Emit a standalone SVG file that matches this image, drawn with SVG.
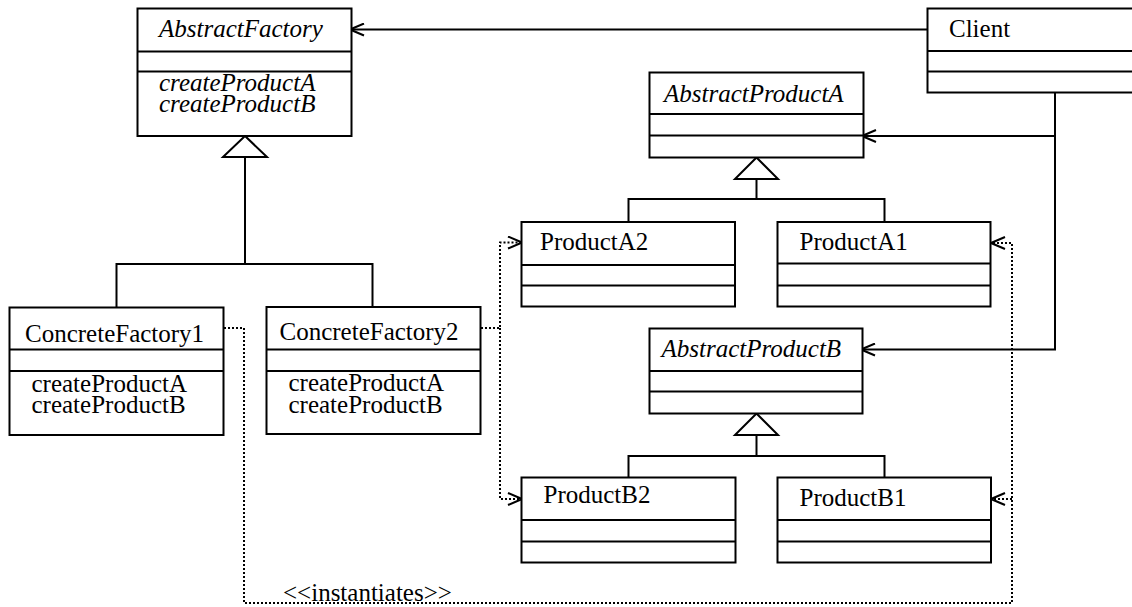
<svg xmlns="http://www.w3.org/2000/svg" width="1132" height="607" viewBox="0 0 1132 607">
  <style>
    .box { fill: #fff; stroke: #000; stroke-width: 2; }
    .sep { stroke: #000; stroke-width: 2; }
    .t { font-family: "Liberation Serif", "Times New Roman", serif; font-size: 25px; fill: #000; }
    .it { font-style: italic; }
    .solid { fill: none; stroke: #000; stroke-width: 2; }
    .dot { fill: none; stroke: #000; stroke-width: 2; stroke-dasharray: 2 2; }
    .tri { fill: #fff; stroke: #000; stroke-width: 2; stroke-linejoin: miter; }
  </style>
  <defs>
    <marker id="open" viewBox="0 0 16 14" refX="15" refY="7" markerWidth="16" markerHeight="14" markerUnits="userSpaceOnUse" orient="auto">
      <path d="M1,1 L15,7 L1,13" fill="none" stroke="#000" stroke-width="2"/>
    </marker>
  </defs>
  <rect width="1132" height="607" fill="#fff"/>

  <!-- connectors -->
  <g id="connectors">
    <!-- Client associations -->
    <line class="solid" x1="927" y1="29.5" x2="350" y2="29.5" marker-end="url(#open)"/>
    <polyline class="solid" points="1055,92.5 1055,136 862,136" marker-end="url(#open)"/>
    <polyline class="solid" points="1055,136 1055,349.5 861,349.5" marker-end="url(#open)"/>

    <!-- factory inheritance -->
    <polygon class="tri" points="245,136 223,157 267,157"/>
    <polyline class="solid" points="245,157 245,264"/>
    <polyline class="solid" points="116.5,307 116.5,264 372.5,264 372.5,307"/>

    <!-- product A inheritance -->
    <polygon class="tri" points="756.5,157.5 735,179 778,179"/>
    <polyline class="solid" points="756.5,179 756.5,199"/>
    <polyline class="solid" points="628.5,222 628.5,199 884.5,199 884.5,222"/>

    <!-- product B inheritance -->
    <polygon class="tri" points="756.5,413.5 735,435 778,435"/>
    <polyline class="solid" points="756.5,435 756.5,456"/>
    <polyline class="solid" points="628.5,477.5 628.5,456 884.5,456 884.5,477.5"/>

    <!-- instantiation dependencies -->
    <polyline class="dot" points="224,328 244,328 244,603 1012,603 1012,243 991,243" marker-end="url(#open)"/>
    <line class="dot" x1="1012" y1="499" x2="991" y2="499" marker-end="url(#open)"/>
    <polyline class="dot" points="481,328 500,328 500,242.5 522,242.5" marker-end="url(#open)"/>
    <polyline class="dot" points="500,328 500,499 522,499" marker-end="url(#open)"/>
    <text class="t" x="283" y="601">&lt;&lt;instantiates&gt;&gt;</text>
  </g>

  <g id="AbstractFactory">
    <rect class="box" x="137.5" y="8.5" width="214" height="127.5"/>
    <line class="sep" x1="137.5" y1="51.5" x2="351.5" y2="51.5"/>
    <line class="sep" x1="137.5" y1="71.5" x2="351.5" y2="71.5"/>
    <text class="t it" x="159" y="37">AbstractFactory</text>
    <text class="t it" x="159" y="91">createProductA</text>
    <text class="t it" x="159" y="112">createProductB</text>
  </g>

  <g id="Client">
    <rect class="box" x="927.5" y="8.5" width="220" height="84"/>
    <line class="sep" x1="927.5" y1="51" x2="1140" y2="51"/>
    <line class="sep" x1="927.5" y1="71.5" x2="1140" y2="71.5"/>
    <text class="t" x="949" y="37">Client</text>
  </g>

  <g id="AbstractProductA">
    <rect class="box" x="649.5" y="72.5" width="214" height="85"/>
    <line class="sep" x1="649.5" y1="114" x2="863.5" y2="114"/>
    <line class="sep" x1="649.5" y1="135.5" x2="863.5" y2="135.5"/>
    <text class="t it" x="664" y="102">AbstractProductA</text>
  </g>

  <g id="ConcreteFactory1">
    <rect class="box" x="9.5" y="307.5" width="214" height="127.5"/>
    <line class="sep" x1="9.5" y1="349.5" x2="223.5" y2="349.5"/>
    <line class="sep" x1="9.5" y1="371" x2="223.5" y2="371"/>
    <text class="t" x="25" y="342">ConcreteFactory1</text>
    <text class="t" x="31.5" y="391.5">createProductA</text>
    <text class="t" x="31.5" y="413">createProductB</text>
  </g>

  <g id="ConcreteFactory2">
    <rect class="box" x="266.5" y="307" width="214" height="127"/>
    <line class="sep" x1="266.5" y1="349.5" x2="480.5" y2="349.5"/>
    <line class="sep" x1="266.5" y1="371" x2="480.5" y2="371"/>
    <text class="t" x="279.5" y="340">ConcreteFactory2</text>
    <text class="t" x="288.5" y="390.5">createProductA</text>
    <text class="t" x="288.5" y="413">createProductB</text>
  </g>

  <g id="ProductA2">
    <rect class="box" x="521.5" y="222" width="213.5" height="84.5"/>
    <line class="sep" x1="521.5" y1="265" x2="735" y2="265"/>
    <line class="sep" x1="521.5" y1="285.5" x2="735" y2="285.5"/>
    <text class="t" x="540" y="250">ProductA2</text>
  </g>

  <g id="ProductA1">
    <rect class="box" x="777.5" y="222" width="213" height="84.5"/>
    <line class="sep" x1="777.5" y1="263.5" x2="990.5" y2="263.5"/>
    <line class="sep" x1="777.5" y1="285.5" x2="990.5" y2="285.5"/>
    <text class="t" x="799.5" y="250">ProductA1</text>
  </g>

  <g id="AbstractProductB">
    <rect class="box" x="649.5" y="328.5" width="213" height="85"/>
    <line class="sep" x1="649.5" y1="371" x2="862.5" y2="371"/>
    <line class="sep" x1="649.5" y1="391.5" x2="862.5" y2="391.5"/>
    <text class="t it" x="661.5" y="357">AbstractProductB</text>
  </g>

  <g id="ProductB2">
    <rect class="box" x="521.5" y="477.5" width="214" height="85"/>
    <line class="sep" x1="521.5" y1="520" x2="735.5" y2="520"/>
    <line class="sep" x1="521.5" y1="541.5" x2="735.5" y2="541.5"/>
    <text class="t" x="543.5" y="503">ProductB2</text>
  </g>

  <g id="ProductB1">
    <rect class="box" x="777.5" y="477.5" width="213.5" height="85"/>
    <line class="sep" x1="777.5" y1="520" x2="991" y2="520"/>
    <line class="sep" x1="777.5" y1="541.5" x2="991" y2="541.5"/>
    <text class="t" x="799.5" y="506">ProductB1</text>
  </g>
</svg>
